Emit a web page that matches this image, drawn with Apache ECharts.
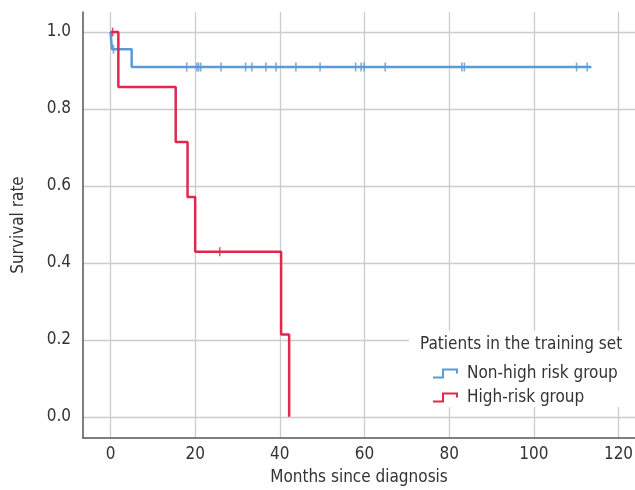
<!DOCTYPE html>
<html>
<head>
<meta charset="utf-8">
<script src="https://cdn.jsdelivr.net/npm/echarts@6/dist/echarts.min.js"></script>
<style>html,body{margin:0;padding:0;background:#fff}#c{width:635px;height:490px}</style>
</head>
<body>
<div id="c"></div>
<script>
// ---- data ----
var seriesNames = ['Non-high risk group', 'High-risk group'];
var legendTitle = 'Patients in the training set';
var xTicks = [0, 20, 40, 60, 80, 100, 120];
var yTicks = [0, 0.2, 0.4, 0.6, 0.8, 1.0];
// Kaplan-Meier steps: [month, survival]
var lowRiskSteps = [[0, 1.0], [0.35, 0.955], [5.0, 0.909], [113.6, 0.909]];
var highRiskSteps = [[0, 1.0], [1.85, 0.857], [15.4, 0.714], [18.2, 0.571], [20.0, 0.429], [40.3, 0.214], [42.2, 0.0]];
// censor marks: [month, survival]
var lowRiskCensor = [[0.7, 0.955], [18.0, 0.909], [20.4, 0.909], [20.8, 0.909], [21.3, 0.909], [26.1, 0.909], [31.9, 0.909], [33.4, 0.909], [36.7, 0.909], [39.1, 0.909], [43.8, 0.909], [49.5, 0.909], [57.9, 0.909], [59.2, 0.909], [59.9, 0.909], [64.9, 0.909], [83.0, 0.909], [83.6, 0.909], [110.1, 0.909], [112.6, 0.909]];
var highRiskCensor = [[0.5, 1.0], [25.8, 0.429]];

var blue = '#5b9bd5';
var red = '#e0284d';
var font = '"DejaVu Sans Condensed","Roboto",sans-serif';
var fs = 17;
var stepIcon = 'path://M0,8 L9,8 L9,0 L25,0 L25,5 L23,5 L23,2 L11,2 L11,10 L0,10 Z';

var chart = echarts.init(document.getElementById('c'));
chart.setOption({
  animation: false,
  backgroundColor: '#fff',
  grid: { left: 83, right: 0, top: 12, bottom: 52, containLabel: false, outerBoundsMode: 'none' },
  xAxis: {
    type: 'value', min: -6.5, max: 123.9,
    name: 'Months since diagnosis', nameLocation: 'middle', nameGap: 31,
    nameTextStyle: { fontFamily: font, fontSize: fs, color: '#333' },
    axisLine: { show: true, onZero: false, lineStyle: { color: '#555', width: 1.5 } },
    axisTick: { show: false, customValues: xTicks },
    axisLabel: { customValues: xTicks, fontFamily: font, fontSize: fs, color: '#333', margin: 8 },
    splitLine: { show: true, lineStyle: { color: '#c9ccd0', width: 1.3 } }
  },
  yAxis: {
    type: 'value', min: -0.055, max: 1.052,
    name: 'Survival rate', nameLocation: 'middle', nameGap: 56,
    nameTextStyle: { fontFamily: font, fontSize: fs, color: '#333' },
    axisLine: { show: true, onZero: false, lineStyle: { color: '#555', width: 1.5 } },
    axisTick: { show: false, customValues: yTicks },
    axisLabel: { customValues: yTicks, fontFamily: font, fontSize: fs, color: '#333', margin: 12,
      formatter: function (v) { return v.toFixed(1); } },
    splitLine: { show: true, lineStyle: { color: '#c9ccd0', width: 1.3 } }
  },
  legend: {
    orient: 'vertical', left: 428, top: 360, itemGap: 7,
    itemWidth: 25, itemHeight: 10,
    data: [
      { name: seriesNames[0], icon: stepIcon },
      { name: seriesNames[1], icon: stepIcon }
    ],
    textStyle: { fontFamily: font, fontSize: fs, color: '#333', padding: [0, 0, 0, 4] },
    z: 10
  },
  graphic: [
    { type: 'rect', z: 5, shape: { x: 409, y: 331, width: 226, height: 76 }, style: { fill: '#fff' } },
    { type: 'text', z: 6, left: 420, top: 336, style: { text: legendTitle, font: fs + 'px ' + font, fill: '#333' } }
  ],
  series: [
    { name: seriesNames[0], type: 'line', step: 'end', data: lowRiskSteps, symbol: 'none',
      lineStyle: { color: blue, width: 2.5 }, itemStyle: { color: blue }, z: 3 },
    { name: seriesNames[1], type: 'line', step: 'end', data: highRiskSteps, symbol: 'none',
      lineStyle: { color: red, width: 2.5 }, itemStyle: { color: red }, z: 4 },
    { name: seriesNames[0] + ' censored', type: 'scatter', data: lowRiskCensor, symbol: 'rect',
      symbolSize: [1.6, 9], itemStyle: { color: blue }, z: 3, silent: true },
    { name: seriesNames[1] + ' censored', type: 'scatter', data: highRiskCensor, symbol: 'rect',
      symbolSize: [1.6, 9], itemStyle: { color: red }, z: 4, silent: true }
  ]
});
</script>
</body>
</html>
